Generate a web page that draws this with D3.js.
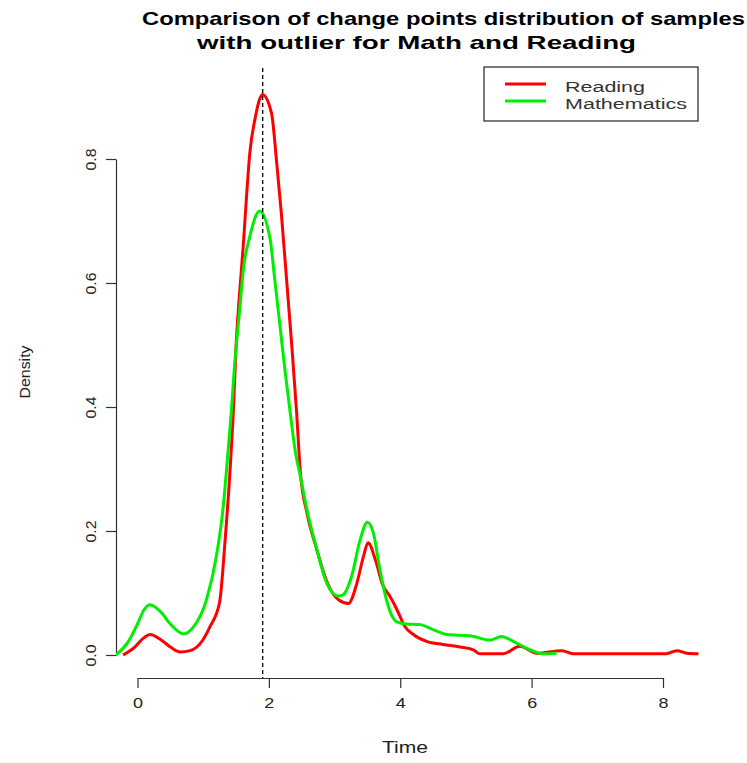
<!DOCTYPE html>
<html>
<head>
<meta charset="utf-8">
<script src="https://cdn.jsdelivr.net/npm/d3@7"></script>
<style>
  body { margin: 0; background: #fff; }
  svg { display: block; font-family: "Liberation Sans", Arial, sans-serif; }
</style>
</head>
<body>
<div id="chart"></div>
<script>
// density estimates
const readingX = [-0.22, -0.05, 0.1, 0.19, 0.35, 0.5, 0.65, 0.8, 1.0, 1.1, 1.25, 1.33, 1.41, 1.46, 1.5, 1.55, 1.61, 1.66, 1.71, 1.79, 1.855, 1.9, 2.04, 2.12, 2.19, 2.27, 2.35, 2.42, 2.48, 2.58, 2.73, 2.88, 3.06, 3.21, 3.34, 3.44, 3.51, 3.62, 3.74, 3.84, 3.95, 4.07, 4.2, 4.4, 4.65, 4.91, 5.12, 5.21, 5.57, 5.82, 6.08, 6.46, 6.63, 8.05, 8.21, 8.36, 8.54];
const readingY = [0.0, 0.012, 0.028, 0.033, 0.025, 0.013, 0.005, 0.007, 0.025, 0.045, 0.085, 0.18, 0.30, 0.395, 0.497, 0.578, 0.66, 0.74, 0.81, 0.865, 0.895, 0.904, 0.874, 0.793, 0.712, 0.605, 0.497, 0.395, 0.294, 0.229, 0.17, 0.119, 0.089, 0.083, 0.116, 0.159, 0.181, 0.154, 0.111, 0.095, 0.073, 0.046, 0.033, 0.022, 0.017, 0.013, 0.008, 0.002, 0.002, 0.014, 0.003, 0.007, 0.002, 0.002, 0.007, 0.003, 0.002];

const mathX = [-0.33, -0.15, 0.0, 0.1, 0.19, 0.35, 0.5, 0.7, 0.85, 1.05, 1.2, 1.3, 1.38, 1.43, 1.48, 1.56, 1.61, 1.71, 1.86, 2.02, 2.09, 2.17, 2.25, 2.32, 2.4, 2.48, 2.58, 2.73, 2.88, 3.06, 3.13, 3.26, 3.39, 3.5, 3.59, 3.69, 3.79, 3.94, 4.1, 4.3, 4.5, 4.71, 5.06, 5.37, 5.54, 5.72, 5.92, 6.18, 6.38];
const mathY = [0.0, 0.02, 0.05, 0.073, 0.081, 0.07, 0.05, 0.034, 0.045, 0.089, 0.159, 0.234, 0.33, 0.395, 0.47, 0.562, 0.62, 0.675, 0.716, 0.67, 0.605, 0.53, 0.455, 0.395, 0.33, 0.288, 0.234, 0.17, 0.116, 0.095, 0.097, 0.127, 0.186, 0.214, 0.197, 0.138, 0.089, 0.054, 0.05, 0.049, 0.041, 0.033, 0.031, 0.024, 0.03, 0.022, 0.011, 0.002, 0.003];

const xTicks = [0, 2, 4, 6, 8];
const yTicks = [0, 0.2, 0.4, 0.6, 0.8];
const meanLine = 1.906;
const seriesNames = ["Reading", "Mathematics"];
const seriesColors = ["#ff0000", "#00ee00"];
const legendWidths = [80, 122];

const W = 747, H = 763;
const plot = { left: 116, right: 725, top: 68, bottom: 678 };

const svg = d3.select("#chart").append("svg")
    .attr("width", W)
    .attr("height", H);

const x = d3.scaleLinear().domain([0, 8]).range([137.5, 663]);
const y = d3.scaleLinear().domain([0, 0.8]).range([655, 159]);

svg.append("clipPath").attr("id", "clip")
    .append("rect")
    .attr("x", plot.left).attr("y", plot.top)
    .attr("width", plot.right - plot.left).attr("height", plot.bottom - plot.top);

// axes
const xAxis = svg.append("g")
    .attr("transform", `translate(0,${plot.bottom})`)
    .call(d3.axisBottom(x).tickValues(xTicks).tickSize(10).tickSizeOuter(0).tickPadding(9));
xAxis.selectAll("text")
    .attr("font-size", 15)
    .attr("fill", "#222")
    .attr("textLength", 10)
    .attr("lengthAdjust", "spacingAndGlyphs");

const yAxis = svg.append("g")
    .attr("transform", `translate(${plot.left},0)`)
    .call(d3.axisLeft(y).tickValues(yTicks).tickSize(10).tickSizeOuter(0).tickFormat(d3.format(".1f")));
yAxis.selectAll("text")
    .attr("font-size", 14)
    .attr("fill", "#222")
    .attr("text-anchor", "middle")
    .attr("transform", "rotate(-90)")
    .attr("x", 0)
    .attr("y", -20.5)
    .attr("dy", 0)
    .attr("textLength", 22)
    .attr("lengthAdjust", "spacingAndGlyphs");

svg.selectAll(".domain, .tick line").attr("stroke", "#333").attr("stroke-width", 1.2);

// density curves
const line = d3.line()
    .x(d => x(d[0]))
    .y(d => y(d[1]))
    .curve(d3.curveMonotoneX);

const curves = svg.append("g").attr("clip-path", "url(#clip)");

curves.append("path")
    .datum(d3.zip(readingX, readingY))
    .attr("d", line)
    .attr("fill", "none")
    .attr("stroke", seriesColors[0])
    .attr("stroke-width", 3);

curves.append("path")
    .datum(d3.zip(mathX, mathY))
    .attr("d", line)
    .attr("fill", "none")
    .attr("stroke", seriesColors[1])
    .attr("stroke-width", 3);

// vertical dashed line
svg.append("line")
    .attr("x1", x(meanLine)).attr("x2", x(meanLine))
    .attr("y1", plot.top).attr("y2", plot.bottom)
    .attr("stroke", "#000")
    .attr("stroke-width", 1.3)
    .attr("stroke-dasharray", "4,3");

// title
svg.append("text")
    .attr("x", 142).attr("y", 25)
    .attr("font-size", 19).attr("font-weight", "bold")
    .attr("textLength", 603).attr("lengthAdjust", "spacingAndGlyphs")
    .text("Comparison of change points distribution of samples");
svg.append("text")
    .attr("x", 197).attr("y", 49)
    .attr("font-size", 19).attr("font-weight", "bold")
    .attr("textLength", 439).attr("lengthAdjust", "spacingAndGlyphs")
    .text("with outlier for Math and Reading");

// axis titles
svg.append("text")
    .attr("x", 382).attr("y", 753)
    .attr("font-size", 17).attr("fill", "#222")
    .attr("textLength", 46).attr("lengthAdjust", "spacingAndGlyphs")
    .text("Time");

svg.append("text")
    .attr("transform", "translate(30,372) rotate(-90)")
    .attr("text-anchor", "middle")
    .attr("font-size", 15).attr("fill", "#222")
    .attr("textLength", 53).attr("lengthAdjust", "spacingAndGlyphs")
    .text("Density");

// legend
const legend = svg.append("g");
legend.append("rect")
    .attr("x", 484).attr("y", 67)
    .attr("width", 214).attr("height", 54)
    .attr("fill", "#fff")
    .attr("stroke", "#222").attr("stroke-width", 1.2);

seriesNames.forEach((name, i) => {
    const ly = 84 + i * 17;
    legend.append("line")
        .attr("x1", 505).attr("x2", 546)
        .attr("y1", ly).attr("y2", ly)
        .attr("stroke", seriesColors[i])
        .attr("stroke-width", 3);
    legend.append("text")
        .attr("x", 565).attr("y", ly + 8)
        .attr("font-size", 15.5).attr("fill", "#333")
        .attr("textLength", legendWidths[i]).attr("lengthAdjust", "spacingAndGlyphs")
        .text(name);
});
</script>
</body>
</html>
